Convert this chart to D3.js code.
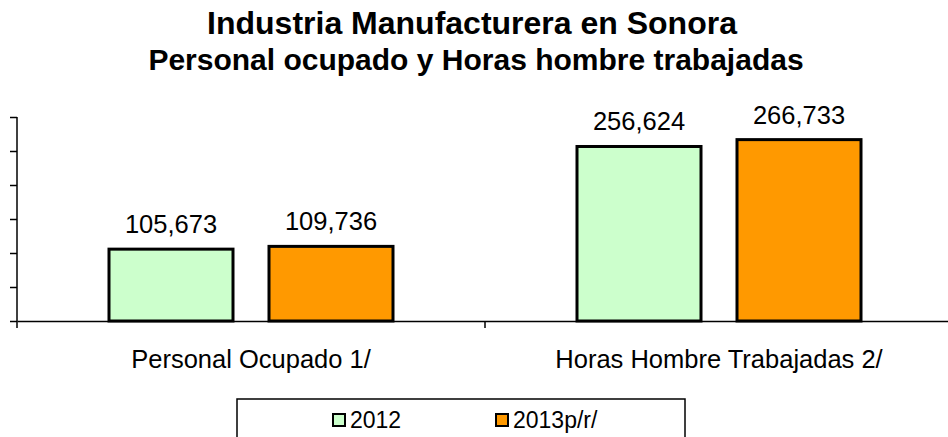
<!DOCTYPE html>
<html lang="es">
<head>
  <meta charset="UTF-8">
  <title>Industria Manufacturera en Sonora</title>
  <script src="https://d3js.org/d3.v7.min.js"></script>
  <style>
    body { margin: 0; background: #fff; }
    svg { display: block; font-family: "Liberation Sans", Arial, sans-serif; }
  </style>
</head>
<body>
  <div id="chart"></div>
  <script>
    // datos
    const categories = ["Personal Ocupado 1/", "Horas Hombre Trabajadas 2/"];
    const seriesNames = ["2012", "2013p/r/"];
    const values2012 = [105673, 256624];
    const values2013 = [109736, 266733];
    const yTicks = [0, 50000, 100000, 150000, 200000, 250000, 300000];

    const width = 948, height = 437;
    const colors = { "2012": "#CCFFCC", "2013p/r/": "#FF9900" };

    const svg = d3.select("#chart").append("svg")
      .attr("width", width)
      .attr("height", height);

    // títulos
    svg.append("text")
      .attr("x", 472).attr("y", 34)
      .attr("text-anchor", "middle")
      .attr("font-weight", "bold")
      .attr("font-size", 32)
      .text("Industria Manufacturera en Sonora");
    svg.append("text")
      .attr("x", 476).attr("y", 70)
      .attr("text-anchor", "middle")
      .attr("font-weight", "bold")
      .attr("font-size", 30)
      .text("Personal ocupado y Horas hombre trabajadas");

    // escalas
    const plot = { left: 17, right: 953, top: 117, bottom: 321 };
    const x0 = d3.scaleBand().domain(categories).range([plot.left, plot.right]);
    const x1 = d3.scaleBand().domain(seriesNames)
      .range([92, 376]).paddingInner(36 / 160);
    const y = d3.scaleLinear().domain([0, 300000]).range([plot.bottom, plot.top]);

    const rows = categories.map((c, i) => ({
      cat: c,
      vals: [
        { key: seriesNames[0], value: values2012[i] },
        { key: seriesNames[1], value: values2013[i] }
      ]
    }));

    // eje y (sin etiquetas)
    const yAxis = svg.append("g")
      .attr("transform", `translate(${plot.left},0)`)
      .call(d3.axisLeft(y).tickValues(yTicks).tickFormat("").tickSize(7).tickSizeOuter(0));
    yAxis.select(".domain").remove();
    yAxis.selectAll(".tick line").attr("stroke", "#000").attr("stroke-width", 1.5);
    svg.append("line")
      .attr("x1", plot.left).attr("x2", plot.left)
      .attr("y1", plot.top).attr("y2", plot.bottom + 7)
      .attr("stroke", "#000").attr("stroke-width", 1.5);

    // barras
    const groups = svg.selectAll(".grp")
      .data(rows)
      .enter().append("g")
      .attr("class", "grp")
      .attr("transform", d => `translate(${x0(d.cat)},0)`);

    groups.selectAll("rect")
      .data(d => d.vals)
      .enter().append("rect")
      .attr("x", d => x1(d.key))
      .attr("y", d => y(d.value))
      .attr("width", x1.bandwidth())
      .attr("height", d => y(0) - y(d.value))
      .attr("fill", d => colors[d.key])
      .attr("stroke", "#000")
      .attr("stroke-width", 3);

    groups.selectAll(".val")
      .data(d => d.vals)
      .enter().append("text")
      .attr("class", "val")
      .attr("x", d => x1(d.key) + x1.bandwidth() / 2)
      .attr("y", d => y(d.value) - 16)
      .attr("text-anchor", "middle")
      .attr("font-size", 25.5)
      .text(d => d3.format(",")(d.value));

    // eje x
    const xAxis = svg.append("g")
      .attr("transform", `translate(0,${plot.bottom})`)
      .call(d3.axisBottom(x0).tickSize(0).tickSizeOuter(0).tickPadding(0));
    xAxis.select(".domain").attr("stroke", "#000").attr("stroke-width", 1.5);
    xAxis.selectAll(".tick text")
      .attr("font-size", 25.5)
      .attr("fill", "#000")
      .attr("dy", null)
      .attr("y", 47);
    // marca entre categorías
    svg.append("line")
      .attr("x1", x0(categories[1])).attr("x2", x0(categories[1]))
      .attr("y1", plot.bottom).attr("y2", plot.bottom + 7)
      .attr("stroke", "#000").attr("stroke-width", 1.5);

    // leyenda
    const legend = svg.append("g");
    legend.append("rect")
      .attr("x", 237).attr("y", 399)
      .attr("width", 448).attr("height", 60)
      .attr("fill", "#fff")
      .attr("stroke", "#000").attr("stroke-width", 1.5);
    const legendX = [333, 496];
    seriesNames.forEach((s, i) => {
      legend.append("rect")
        .attr("x", legendX[i]).attr("y", 414)
        .attr("width", 12).attr("height", 12)
        .attr("fill", colors[s])
        .attr("stroke", "#000").attr("stroke-width", 2);
      legend.append("text")
        .attr("x", legendX[i] + 17).attr("y", 428)
        .attr("font-size", 23)
        .text(s);
    });
  </script>
</body>
</html>
